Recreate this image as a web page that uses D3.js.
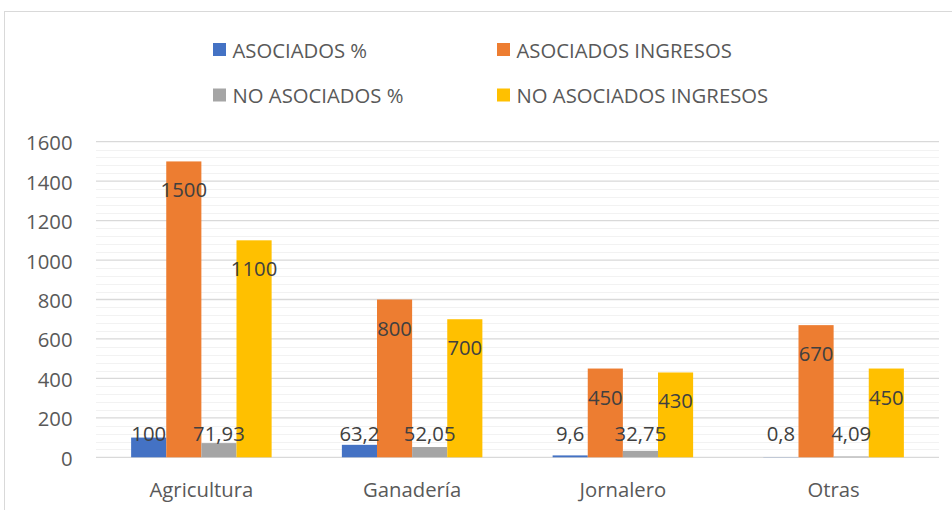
<!DOCTYPE html>
<html><head><meta charset="utf-8">
<script src="https://cdn.jsdelivr.net/npm/d3@7"></script>
<style>html,body{margin:0;padding:0;background:#fff;}svg{display:block;font-family:"Open Sans",Lato,sans-serif;}</style>
</head><body>
<svg id="c" width="952" height="510"></svg>
<script>
const categories = ["Agricultura", "Ganadería", "Jornalero", "Otras"];
const seriesNames = ["ASOCIADOS %", "ASOCIADOS INGRESOS", "NO ASOCIADOS %", "NO ASOCIADOS INGRESOS"];
const asociadosPct = [100, 63.2, 9.6, 0.8];
const asociadosIngresos = [1500, 800, 450, 670];
const noAsociadosPct = [71.93, 52.05, 32.75, 4.09];
const noAsociadosIngresos = [1100, 700, 430, 450];
const yTicks = [0, 200, 400, 600, 800, 1000, 1200, 1400, 1600];
const colors = ["#4472C4", "#ED7D31", "#A5A5A5", "#FFC000"];

(function () {
const seriesValues = [asociadosPct, asociadosIngresos, noAsociadosPct, noAsociadosIngresos];
const fmt = v => String(v).replace(".", ",");
const FS = "20.3px";

const svg = d3.select("#c");
const pLeft = 96, pRight = 939, pTop = 141.7, pBottom = 457.3;

// chart border
svg.append("rect").attr("x", 4.5).attr("y", 11.5).attr("width", 960).attr("height", 520)
  .attr("fill", "none").attr("stroke", "#d9d9d9").attr("stroke-width", 1);

const x = d3.scaleBand().domain(categories).range([pLeft, pRight]).padding(0);
const bw = x.bandwidth();
const xs = d3.scaleBand().domain(seriesNames).range([bw / 6, bw * 5 / 6]).padding(0);
const y = d3.scaleLinear().domain([0, 1600]).range([pBottom, pTop]);

// minor gridlines
const minor = d3.range(0, 1601, 40).filter(v => v % 200 !== 0);
svg.append("g").selectAll("line").data(minor).join("line")
  .attr("x1", pLeft).attr("x2", pRight)
  .attr("y1", d => Math.round(y(d)) + 0.5).attr("y2", d => Math.round(y(d)) + 0.5)
  .attr("stroke", "#f2f2f2").attr("stroke-width", 1);

// major gridlines
svg.append("g").selectAll("line").data(yTicks).join("line")
  .attr("x1", pLeft).attr("x2", pRight)
  .attr("y1", d => y(d)).attr("y2", d => y(d))
  .attr("stroke", "#d9d9d9").attr("stroke-width", 1.3);

// y axis labels
const yAxis = d3.axisLeft(y).tickValues(yTicks).tickSize(0).tickPadding(0).tickFormat(d3.format("d"));
const ya = svg.append("g").attr("transform", `translate(${pLeft - 23.5},0)`).call(yAxis);
ya.select(".domain").remove();
ya.selectAll("text").attr("fill", "#595959").attr("dy", null).attr("dominant-baseline", "central")
  .style("font-size", FS).style("font-family", "Open Sans");

// bars
const groups = svg.append("g").selectAll("g").data(categories).join("g")
  .attr("transform", d => `translate(${x(d)},0)`);
groups.each(function (cat, ci) {
  const g = d3.select(this);
  seriesNames.forEach((s, si) => {
    const v = seriesValues[si][ci];
    g.append("rect").attr("x", xs(s)).attr("width", xs.bandwidth())
      .attr("y", y(v)).attr("height", y(0) - y(v)).attr("fill", colors[si]);
  });
  seriesNames.forEach((s, si) => {
    const v = seriesValues[si][ci];
    const cy = Math.min(y(v) + 28, y(0) - 24);
    g.append("text").attr("x", xs(s) + xs.bandwidth() / 2).attr("y", cy)
      .attr("text-anchor", "middle").attr("dominant-baseline", "central")
      .attr("fill", "#404040").style("font-size", FS).text(fmt(v));
  });
});

// x axis
const xAxis = d3.axisBottom(x).tickSize(0).tickPadding(0);
const xa = svg.append("g").attr("transform", `translate(0,${pBottom})`).call(xAxis);
xa.select(".domain").remove();
xa.selectAll("text").attr("fill", "#595959").style("font-size", FS).style("font-family", "Open Sans")
  .attr("dy", null).attr("y", 32).attr("dominant-baseline", "central");

// legend
const legendPos = [[213, 49.5], [497, 49.5], [213, 95], [497, 95]];
const lg = svg.append("g").selectAll("g").data(seriesNames).join("g")
  .attr("transform", (d, i) => `translate(${legendPos[i][0]},${legendPos[i][1]})`);
lg.append("rect").attr("x", 0).attr("y", -6.5).attr("width", 13).attr("height", 13)
  .attr("fill", (d, i) => colors[i]);
lg.append("text").attr("x", 19.5).attr("y", 0).attr("dominant-baseline", "central")
  .attr("fill", "#595959").style("font-size", FS).text(d => d);
})();
</script>
</body></html>
